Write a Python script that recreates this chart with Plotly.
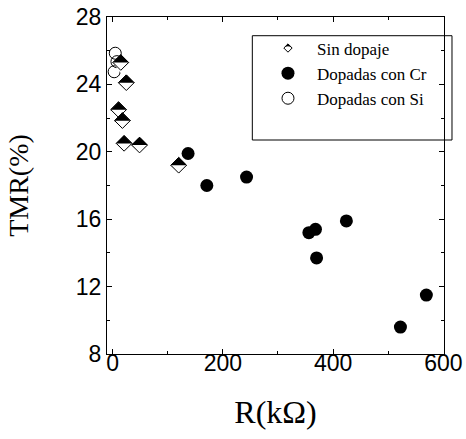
import plotly.graph_objects as go

# ---- data ----
sin_x = [15, 25, 11, 18, 21, 49, 120]
sin_y = [25.3, 24.1, 22.5, 21.85, 20.5, 20.4, 19.2]
cr_x = [137, 171, 243, 356, 368, 370, 424, 522, 569]
cr_y = [19.9, 18.0, 18.5, 15.2, 15.4, 13.7, 15.9, 9.6, 11.5]
si_x = [5, 8, 3]
si_y = [25.85, 25.35, 24.75]

series_names = ["Sin dopaje", "Dopadas con Cr", "Dopadas con Si"]
x_ticks = [0, 200, 400, 600]
y_ticks = [8, 12, 16, 20, 24, 28]
x_title = "R(kΩ)"
y_title = "\u00a0\u00a0TMR(%)"

SERIF = "Liberation Serif, Times New Roman, serif"
SANS = "Liberation Sans, Arial, sans-serif"

fig = go.Figure()

# Cr-doped (filled circles)
fig.add_trace(go.Scatter(
    x=cr_x, y=cr_y, mode="markers", name=series_names[1],
    marker=dict(symbol="circle", size=13, color="black", line=dict(width=0)),
    legendrank=2))

# Si-doped (open circles)
fig.add_trace(go.Scatter(
    x=si_x, y=si_y, mode="markers", name=series_names[2],
    marker=dict(symbol="circle-open", size=12, color="black", line=dict(width=1, color="black")),
    legendrank=3))

# Undoped: half-filled diamonds (black diamond, white lower half, outline)
order = sorted(range(len(sin_x)), key=lambda i: -sin_y[i])
for i in order:
    px, py = [sin_x[i]], [sin_y[i]]
    fig.add_trace(go.Scatter(x=px, y=py, mode="markers", showlegend=False, hoverinfo="skip",
                             marker=dict(symbol="diamond", size=12, color="black",
                                         line=dict(width=1, color="black"))))
    fig.add_trace(go.Scatter(x=px, y=py, mode="markers", showlegend=False, hoverinfo="skip",
                             marker=dict(symbol="triangle-down", size=14, color="white",
                                         standoff=3.5, line=dict(width=0))))
    fig.add_trace(go.Scatter(x=px, y=py, mode="markers", showlegend=False,
                             marker=dict(symbol="diamond-open", size=12, color="black",
                                         line=dict(width=1, color="black"))))

# legend entry for the undoped series (white diamond + black upper half overlay)
fig.add_trace(go.Scatter(x=[None], y=[None], mode="markers", name=series_names[0],
                         marker=dict(symbol="diamond", size=6.4, color="white",
                                     line=dict(width=1, color="black")),
                         legendrank=1))
fig.add_trace(go.Scatter(x=[None], y=[None], mode="markers", name="\u00a0",
                         legend="legend2",
                         marker=dict(symbol="arrow-wide", size=5.88, color="black",
                                     standoff=4.16, line=dict(width=0))))

leg_common = dict(x=0.451, y=0.960, xanchor="left", yanchor="top",
                  bgcolor="rgba(0,0,0,0)", borderwidth=0, itemwidth=48,
                  font=dict(family=SERIF, size=17, color="black"))

axis_common = dict(ticks="inside", ticklen=5, tickwidth=1, tickcolor="black",
                   showline=True, linecolor="black", linewidth=1, mirror="ticks",
                   showgrid=False, zeroline=False, automargin=False,
                   tickfont=dict(family=SANS, size=23, color="black"))

fig.update_layout(
    width=466, height=439,
    margin=dict(l=107, r=22, t=17, b=85, autoexpand=False),
    paper_bgcolor="white", plot_bgcolor="white",
    font=dict(family=SANS, color="black"),
    legend=leg_common,
    legend2=leg_common,
    shapes=[dict(type="rect", xref="paper", yref="paper",
                 x0=0.4312, x1=1.0237, y0=0.635, y1=0.9445,
                 line=dict(color="black", width=1), fillcolor="rgba(0,0,0,0)")],
    xaxis=dict(range=[-10, 601], tickvals=x_ticks, ticklabelstandoff=-12, **axis_common,
               minor=dict(tick0=0, dtick=100, ticks="inside", ticklen=3, tickcolor="black", showgrid=False),
               title=dict(text=x_title, font=dict(family=SERIF, size=32, color="black"), standoff=26)),
    yaxis=dict(range=[8, 28], tickvals=y_ticks, **axis_common,
               minor=dict(tick0=0, dtick=2, ticks="inside", ticklen=3, tickcolor="black", showgrid=False),
               title=dict(text=y_title, font=dict(family=SERIF, size=28, color="black"), standoff=39)),
)

# remove the default 8px body margin so the 466x439 figure fills the window exactly
fig.write_html("out.html", config={"displayModeBar": False},
               post_script="document.body.style.margin='0';")
